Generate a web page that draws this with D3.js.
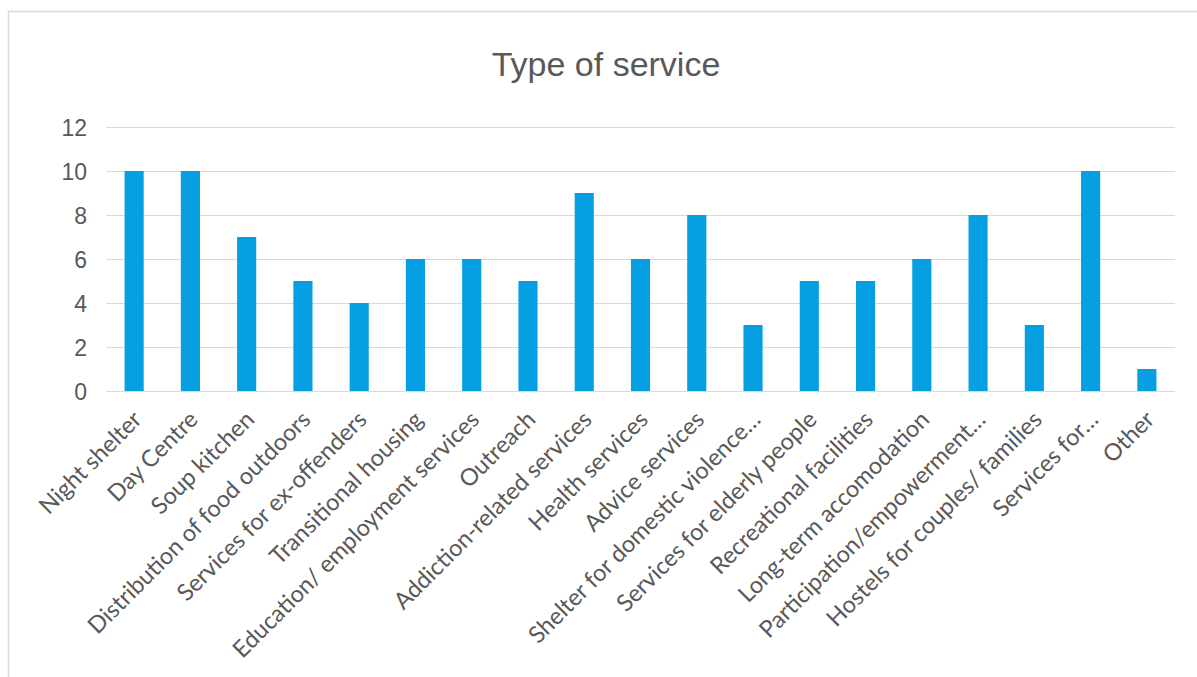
<!DOCTYPE html>
<html>
<head>
<meta charset="utf-8">
<script src="https://cdn.jsdelivr.net/npm/d3@7"></script>
<style>
  html, body { margin: 0; padding: 0; background: #ffffff; }
  svg { display: block; }
</style>
</head>
<body>
<svg id="chart" width="1197" height="677"></svg>
<script>
const title = "Type of service";
const categories = [
  "Night shelter", "Day Centre", "Soup kitchen", "Distribution of food outdoors",
  "Services for ex-offenders", "Transitional housing", "Education/ employment services",
  "Outreach", "Addiction-related services", "Health services", "Advice services",
  "Shelter for domestic violence…", "Services for elderly people", "Recreational facilities",
  "Long-term accomodation", "Participation/empowerment…", "Hostels for couples/ families",
  "Services for…", "Other"
];
const values = [10, 10, 7, 5, 4, 6, 6, 5, 9, 6, 8, 3, 5, 5, 6, 8, 3, 10, 1];
const yTicks = [0, 2, 4, 6, 8, 10, 12];

const svg = d3.select("#chart");
const plot = { left: 106, right: 1175, top: 127, bottom: 391 };

// chart area border
svg.append("rect")
  .attr("x", 8.5).attr("y", 11.5)
  .attr("width", 1220).attr("height", 720)
  .attr("fill", "#ffffff")
  .attr("stroke", "#d9d9d9").attr("stroke-width", 1.5);

const x = d3.scaleBand()
  .domain(categories)
  .range([plot.left, plot.right])
  .paddingInner(0.66)
  .paddingOuter(0.33);

const y = d3.scaleLinear()
  .domain([0, 12])
  .range([plot.bottom, plot.top]);

// gridlines
const yAxis = d3.axisLeft(y).tickValues(yTicks).tickSize(-(plot.right - plot.left)).tickPadding(19);
const gy = svg.append("g")
  .attr("transform", `translate(${plot.left},0)`)
  .call(yAxis);
gy.select(".domain").remove();
gy.selectAll(".tick line").attr("stroke", "#d9d9d9").attr("stroke-width", 1);
gy.selectAll(".tick text")
  .attr("fill", "#595959")
  .style("font-family", "'Liberation Sans', Arial, sans-serif")
  .style("font-size", "23px")
  .attr("dy", "0.36em");

// bars
svg.append("g").selectAll("rect")
  .data(categories)
  .join("rect")
  .attr("x", d => x(d))
  .attr("width", x.bandwidth())
  .attr("y", (d, i) => y(values[i]))
  .attr("height", (d, i) => y(0) - y(values[i]))
  .attr("fill", "#069fe2");

// x axis baseline
const xAxis = d3.axisBottom(x).tickSize(0).tickPadding(0);
const gx = svg.append("g")
  .attr("transform", `translate(0,${plot.bottom})`)
  .call(xAxis);
gx.select(".domain").attr("stroke", "#d9d9d9").attr("stroke-width", 1)
  .attr("d", `M${plot.left},0.5H${plot.right}`);
gx.selectAll(".tick text")
  .attr("fill", "#595959")
  .style("font-family", "Lato, 'Open Sans', sans-serif")
  .style("font-size", "23.5px")
  .attr("text-anchor", "end")
  .attr("y", 0).attr("dy", 0)
  .attr("transform", "translate(9,30) rotate(-45)");

// title
svg.append("text")
  .attr("x", 606).attr("y", 76)
  .attr("text-anchor", "middle")
  .attr("fill", "#595959")
  .style("font-family", "'Liberation Sans', Arial, sans-serif")
  .style("font-size", "34px")
  .text(title);
</script>
</body>
</html>
